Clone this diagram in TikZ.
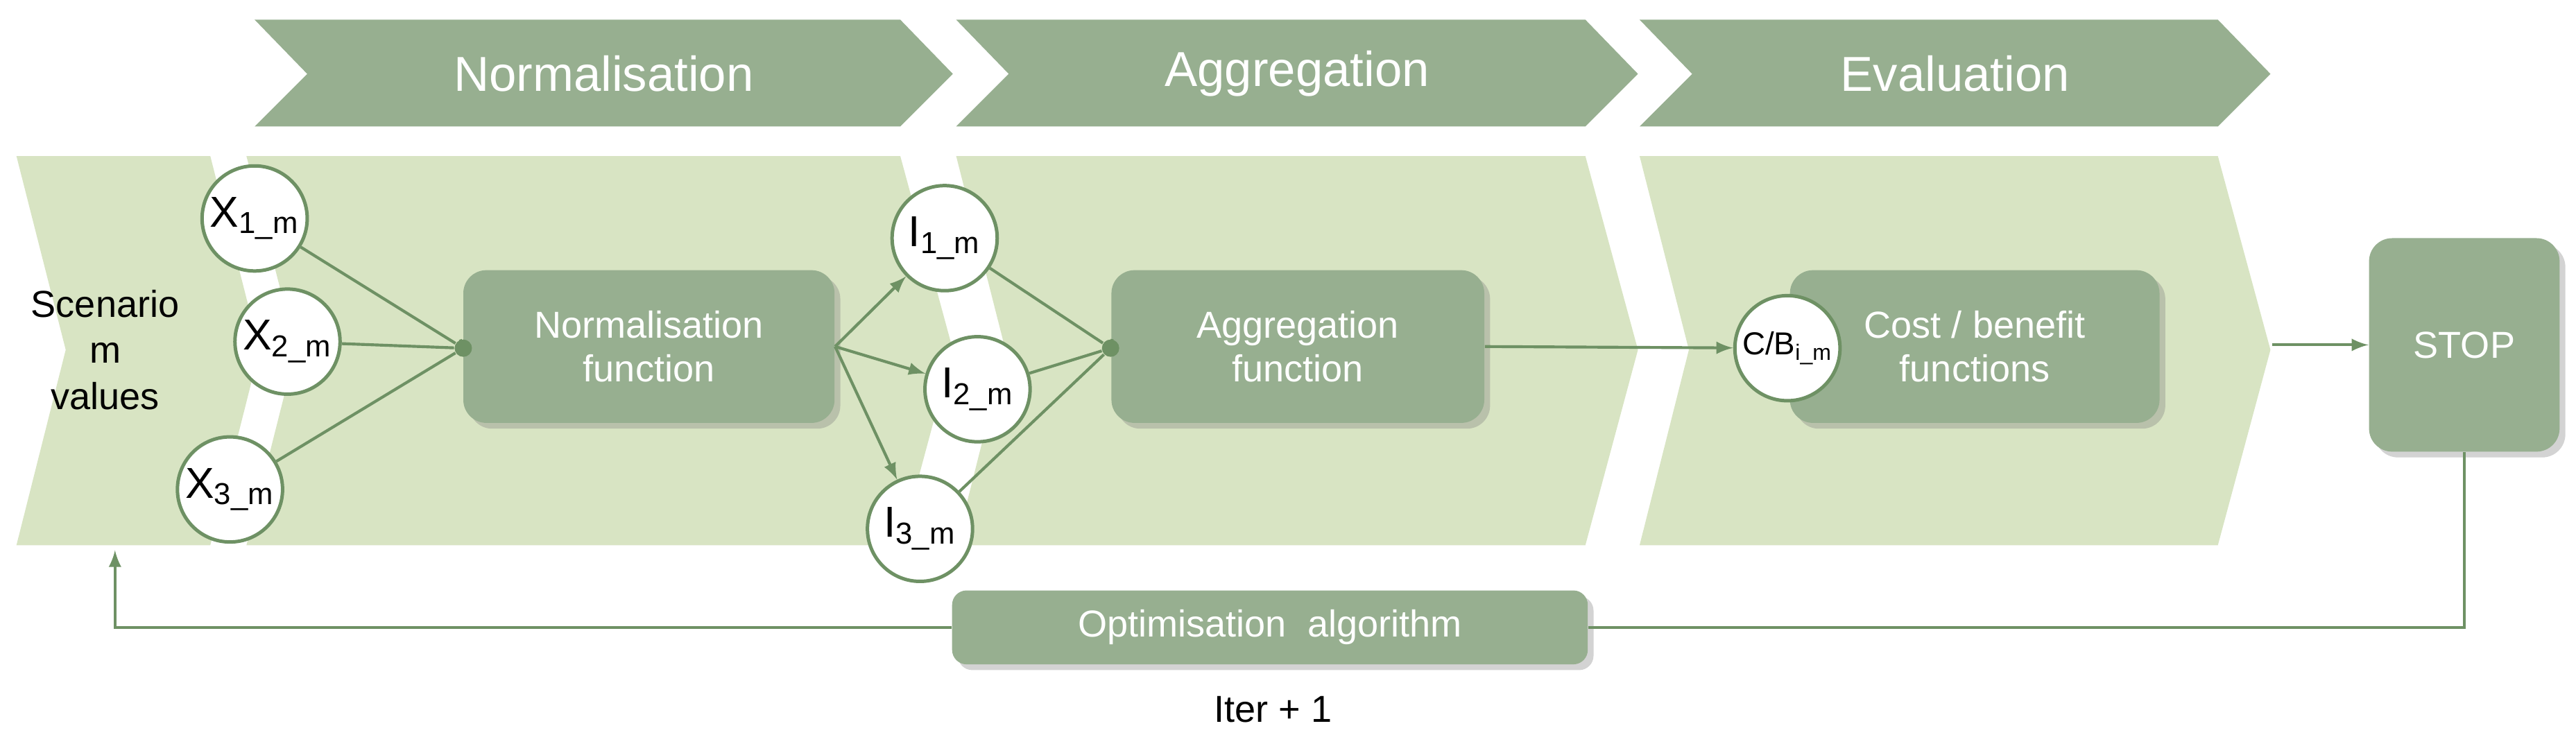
\documentclass[tikz,border=0pt]{standalone}
\usepackage{fontspec}
\setmainfont{Liberation Sans}
\usetikzlibrary{shadows}
\definecolor{dg}{HTML}{97AF90}
\definecolor{lg}{HTML}{D8E4C3}
\definecolor{ln}{HTML}{6E9164}
\begin{document}
\begin{tikzpicture}[x=0.02cm,y=-0.02cm,
 box/.style={draw=none,fill=dg,rounded corners=8pt,text=white,font=\fontsize{13}{15}\selectfont,align=center,drop shadow={opacity=0.35,shadow xshift=2pt,shadow yshift=-2pt}},
 circ/.style={circle,draw=ln,line width=1.2pt,fill=white,minimum size=1.28cm,inner sep=0pt,font=\fontsize{15}{17}\selectfont},
 con/.style={ln,line width=1pt},
 arr/.style={con,-latex},
 dot/.style={circle,fill=ln,inner sep=0pt,minimum size=6pt}]
\useasboundingbox (0,0) rectangle (1568,453);
% top chevrons
\foreach \a/\b/\t in {155/548/Normalisation,582/965/Aggregation,998/1350/Evaluation}{
 \fill[dg] (\a,12) -- (\b,12) -- (\b+32,45) -- (\b,77) -- (\a,77) -- (\a+32,45) -- cycle;
 \node[text=white,font=\fontsize{17}{19}\selectfont] at ({(\a+\b)/2+16},45) {\t};}
% lower band
\fill[lg] (10,95) -- (128,95) -- (158,213) -- (128,332) -- (10,332) -- (40,213) -- cycle;
\foreach \a/\b in {150/548,582/965,998/1350}{
 \fill[lg] (\a,95) -- (\b,95) -- (\b+32,213) -- (\b,332) -- (\a,332) -- (\a+30,213) -- cycle;}
\node[font=\fontsize{13}{16}\selectfont,align=center] (scen) at (64,213) {Scenario\\m\\values};
% boxes
\node[box,minimum width=4.52cm,minimum height=1.86cm] (nf) at (395,211) {Normalisation\\function};
\node[box,minimum width=4.54cm,minimum height=1.86cm] (af) at (790,211) {Aggregation\\function};
\node[box,minimum width=4.5cm,minimum height=1.86cm] (cb) at (1202,211) {Cost / benefit\\functions};
\node[box,minimum width=2.32cm,minimum height=2.6cm] (stop) at (1500,210) {STOP};
\node[box,minimum width=7.74cm,minimum height=0.9cm,rounded corners=5pt] (opt) at (773,382) {Optimisation~~algorithm};
\node[font=\fontsize{13}{15}\selectfont] (iter) at (775,432) {Iter + 1};
% dots
\node[dot] (d1) at (282,212) {};
\node[dot] (d2) at (676,212) {};
% circles
\node[circ] (x1) at (155,133) {X\textsubscript{1\_m}};
\node[circ] (x2) at (175,208) {X\textsubscript{2\_m}};
\node[circ] (x3) at (140,298) {X\textsubscript{3\_m}};
\node[circ] (i1) at (575,145) {I\textsubscript{1\_m}};
\node[circ] (i2) at (595,237) {I\textsubscript{2\_m}};
\node[circ] (i3) at (560,322) {I\textsubscript{3\_m}};
\node[circ,font=\fontsize{11}{13}\selectfont] (c) at (1088,212) {C/B\textsubscript{i\_m}};
\foreach \n in {x1,x2,x3}{\draw[con] (\n) -- (d1);}
\draw[con] (d1) -- (nf.west);
\foreach \n in {i1,i2,i3}{\draw[arr] (nf.east) -- (\n); \draw[con] (\n) -- (d2);}
\draw[con] (d2) -- (af.west);
\draw[arr] (af.east) -- (c);
\coordinate (e) at (1383,210);
\draw[arr] (e) -- (stop.west);
\coordinate (back) at (70,335);
\draw[arr] (stop.south) |- (opt.east) (opt.west) -| (back);
\end{tikzpicture}
\end{document}
